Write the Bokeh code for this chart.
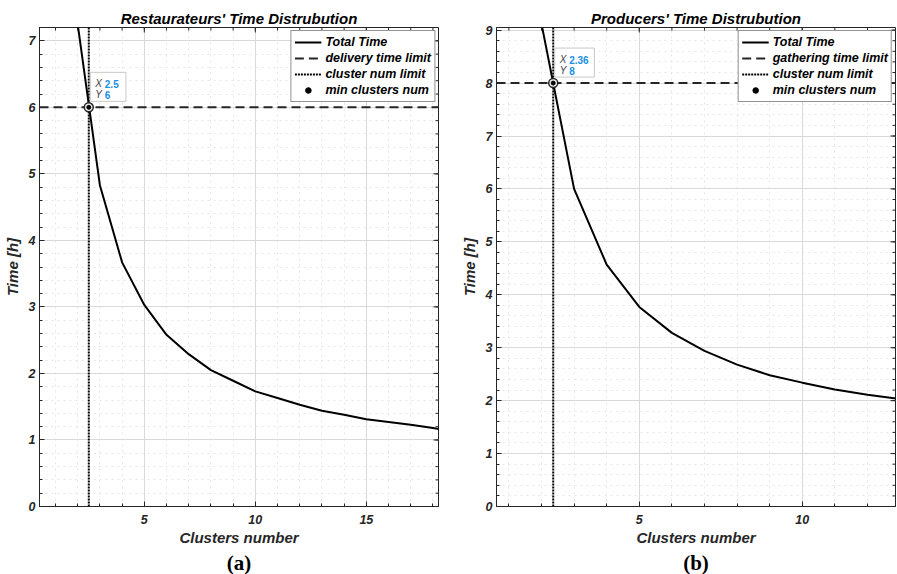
import numpy as np
from bokeh.plotting import figure
from bokeh.models import (Range1d, SingleIntervalTicker, LinearAxis, Legend, LegendItem,
                          Label, Grid, Title)
from bokeh.layouts import row
from bokeh.embed import file_html
from bokeh.resources import INLINE

# ---------------- data ----------------
rest_clusters = [1, 2, 3, 4, 5, 6, 7, 8, 9, 10, 11, 12, 13, 14, 15, 16, 17, 18, 19]
rest_time = [14.5, 7.25, 4.83, 3.67, 3.03, 2.58, 2.29, 2.05, 1.89, 1.73, 1.63, 1.53,
             1.44, 1.38, 1.31, 1.27, 1.23, 1.18, 1.13]
rest_limit = 6
rest_min_clusters = 2.5

prod_clusters = [1, 2, 3, 4, 5, 6, 7, 8, 9, 10, 11, 12, 13]
prod_time = [18.2, 9.12, 6.0, 4.57, 3.77, 3.28, 2.94, 2.68, 2.48, 2.34, 2.21, 2.11, 2.03]
prod_limit = 8
prod_min_clusters = 2.36

FONT = "Liberation Sans"
DARK = "#262626"
HEIGHT = 574
TOP = 27
BOTTOM = 68


def style_axis(ax, ticker, label, standoff, label_standoff):
    ax.ticker = ticker
    ax.axis_line_color = DARK
    ax.major_tick_in = 5
    ax.major_tick_out = 0
    ax.minor_tick_in = 3
    ax.minor_tick_out = 0
    ax.major_tick_line_color = DARK
    ax.minor_tick_line_color = DARK
    ax.major_label_text_font = FONT
    ax.major_label_text_font_style = "bold italic"
    ax.major_label_text_color = DARK
    ax.major_label_text_font_size = "12.5px"
    ax.major_label_standoff = standoff
    ax.axis_label = label
    ax.axis_label_text_font = FONT
    ax.axis_label_text_font_style = "bold italic"
    ax.axis_label_text_font_size = "15px"
    ax.axis_label_text_color = DARK
    ax.axis_label_standoff = label_standoff


def panel(title, tag, xs, ys, limit_value, limit_label, min_x, xr, yr,
          width, ml, mr, tip_right):
    p = figure(width=width, height=HEIGHT, x_range=Range1d(*xr), y_range=Range1d(*yr),
               output_backend="svg", toolbar_location=None,
               x_axis_type=None, y_axis_type=None,
               min_border_left=ml, min_border_right=mr, min_border_top=TOP,
               min_border_bottom=BOTTOM)
    p.outline_line_color = DARK
    p.outline_line_width = 1
    p.background_fill_color = "white"

    xticker = SingleIntervalTicker(interval=5, num_minor_ticks=5)
    yticker = SingleIntervalTicker(interval=1, num_minor_ticks=5)

    for dim, tk in ((0, xticker), (1, yticker)):
        p.add_layout(Grid(dimension=dim, ticker=tk, grid_line_color="#d9d9d9",
                          minor_grid_line_color="#e6e6e6", minor_grid_line_dash="dotted"),
                     "center")

    xb = LinearAxis()
    style_axis(xb, xticker, "Clusters number", 8, 2)
    p.add_layout(xb, "below")

    yl = LinearAxis()
    style_axis(yl, yticker, "Time [h]", 4, 5)
    p.add_layout(yl, "left")

    p.title.text = title
    p.title.text_font = FONT
    p.title.text_font_style = "bold italic"
    p.title.text_font_size = "15px"
    p.title.text_color = "black"
    p.title.align = "center"
    p.title.standoff = 2

    # panel tag below the axis label
    p.add_layout(Title(text=tag, align="center", text_font="Liberation Serif",
                       text_font_style="bold", text_font_size="21px",
                       text_color="black", standoff=0), "below")

    # inside tick marks on the top and right edges of the box
    x_major = np.arange(np.ceil(xr[0] / 5) * 5, xr[1], 5)
    x_minor = np.arange(np.ceil(xr[0]), xr[1], 1)
    y_major = np.arange(np.ceil(yr[0]), yr[1] + 1e-9, 1)
    y_minor = np.arange(yr[0], yr[1], 0.2)
    p.scatter(x_minor, [yr[1]] * len(x_minor), marker="dash", angle=np.pi / 2,
              size=6, line_color=DARK, line_width=1)
    p.scatter(x_major, [yr[1]] * len(x_major), marker="dash", angle=np.pi / 2,
              size=10, line_color=DARK, line_width=1)
    p.scatter([xr[1]] * len(y_minor), y_minor, marker="dash", size=6,
              line_color=DARK, line_width=1)
    p.scatter([xr[1]] * len(y_major), y_major, marker="dash", size=10,
              line_color=DARK, line_width=1)

    # curves
    r_curve = p.line(xs, ys, line_color="black", line_width=2)
    r_limit = p.line([xr[0], xr[1]], [limit_value, limit_value], line_color=DARK,
                     line_width=2, line_dash="9 5")
    r_vert = p.line([min_x, min_x], [yr[0], yr[1]], line_color="black",
                    line_width=2, line_dash="2 1")
    p.scatter([min_x], [limit_value], size=9, marker="circle", fill_color="#f0f0f0",
              line_color=DARK, line_width=1.5)
    r_pt = p.scatter([min_x], [limit_value], size=4, marker="circle",
                     fill_color="black", line_color="black")

    legend = Legend(items=[
        LegendItem(label="Total Time", renderers=[r_curve]),
        LegendItem(label=limit_label, renderers=[r_limit]),
        LegendItem(label="cluster num limit", renderers=[r_vert]),
        LegendItem(label="min clusters num", renderers=[r_pt]),
    ], location="top_right")
    legend.border_line_color = DARK
    legend.border_line_width = 1
    legend.background_fill_alpha = 1
    legend.label_text_font = FONT
    legend.label_text_font_style = "bold italic"
    legend.label_text_font_size = "12.5px"
    legend.label_text_color = "black"
    legend.glyph_width = 27
    legend.glyph_height = 14
    legend.label_height = 16
    legend.spacing = 0
    legend.padding = 3
    legend.margin = 3
    legend.label_standoff = 4
    p.add_layout(legend)

    # data tip
    p.add_layout(Label(x=min_x, y=limit_value, text="X", x_offset=1.5, y_offset=6,
                       text_font=FONT, text_font_style="italic", text_font_size="10px",
                       text_color="#404040", text_align="left", text_baseline="bottom",
                       background_fill_color="white", border_line_color="#c8c8c8",
                       padding=dict(left=5, right=tip_right, top=6, bottom=12)))
    p.add_layout(Label(x=min_x, y=limit_value, text="Y", x_offset=6.5, y_offset=12.5,
                       text_font=FONT, text_font_style="italic", text_font_size="10px",
                       text_color="#404040", text_align="left", text_baseline="middle"))
    p.add_layout(Label(x=min_x, y=limit_value, text=f"{min_x:g}", x_offset=16,
                       y_offset=23.5, text_font=FONT, text_font_style="bold",
                       text_font_size="10px", text_color="#1a8fe3", text_align="left",
                       text_baseline="middle"))
    p.add_layout(Label(x=min_x, y=limit_value, text=f"{limit_value:g}", x_offset=16,
                       y_offset=12.5, text_font=FONT, text_font_style="bold",
                       text_font_size="10px", text_color="#1a8fe3", text_align="left",
                       text_baseline="middle"))
    return p


p1 = panel("Restaurateurs' Time Distrubution", "(a)", rest_clusters, rest_time,
           rest_limit, "delivery time limit", rest_min_clusters,
           (0.28, 18.25), (0, 7.2), 446, 38, 8, 24)
p2 = panel("Producers' Time Distrubution", "(b)", prod_clusters, prod_time,
           prod_limit, "gathering time limit", prod_min_clusters,
           (0.62, 12.86), (0, 9.05), 451, 50, 2, 28)

layout = row(p1, p2)
open("out.html", "w").write(file_html(layout, INLINE))
